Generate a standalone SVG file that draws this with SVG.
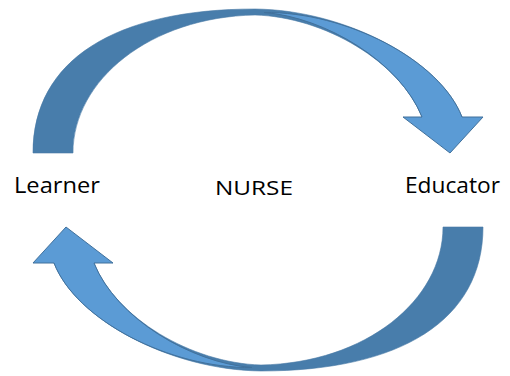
<svg xmlns="http://www.w3.org/2000/svg" xmlns:xlink="http://www.w3.org/1999/xlink" width="510" height="376" viewBox="0 0 510 376">
<style>
.dark{fill:#487DAB;stroke:#4A7BA6;stroke-width:0.6}
.light{fill:#5B9BD5;stroke:#41719C;stroke-width:1}
.lbl{font-family:"Open Sans","Liberation Sans",sans-serif;fill:#000}
</style>
<defs>
<g id="curvedArrow">
<path class="dark" d="M33,153 C33,60 115,9 255,9 C345,10 440,60 462,117 L422,117 C400,62 325,17 255,15 C150,17 73,80 73,153 Z"/>
<path class="light" d="M264,12.5 C346,11.5 440,60 462,117 L483,117 L450,153 L403,117 L422,117 C400,62 325,17 264,12.5 Z"/>
</g>
</defs>
<g id="connectors">
<use xlink:href="#curvedArrow"/>
<use xlink:href="#curvedArrow" transform="rotate(180 258 190)"/>
</g>
<g id="learner"><text class="lbl" x="14" y="193" font-size="21" textLength="86" lengthAdjust="spacingAndGlyphs">Learner</text></g>
<g id="nurse"><text class="lbl" x="215" y="195" font-size="20" textLength="78" lengthAdjust="spacingAndGlyphs">NURSE</text></g>
<g id="educator"><text class="lbl" x="405" y="193" font-size="21" textLength="95" lengthAdjust="spacingAndGlyphs">Educator</text></g>
</svg>
